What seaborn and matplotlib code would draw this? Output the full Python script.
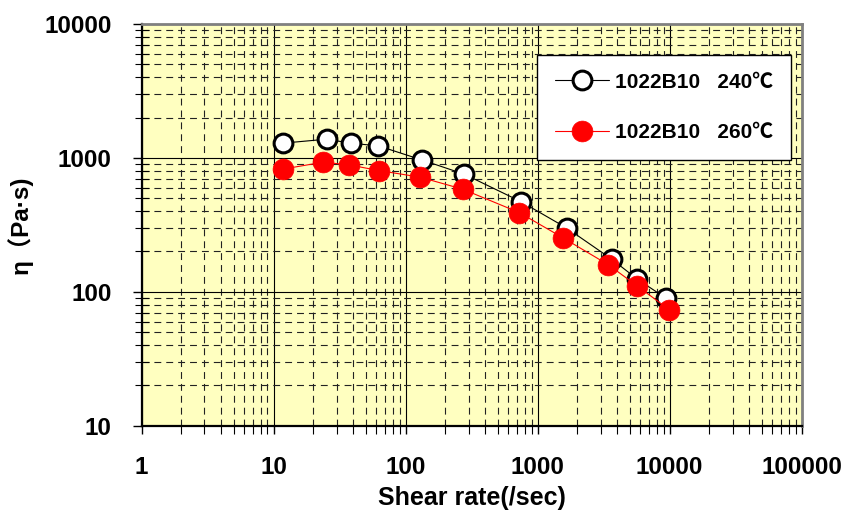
import matplotlib
matplotlib.use("Agg")
import matplotlib.pyplot as plt
import matplotlib.ticker as mticker
import numpy as np
import pandas as pd
import seaborn as sns

# ---- data ----
shear_240 = [11.7, 25.3, 38.4, 62.2, 132.6, 279, 746, 1664, 3648, 5702, 9354]
eta_240 = [1288, 1380, 1288, 1230, 966, 755, 472, 299, 175, 124, 89.8]
shear_260 = [11.7, 23.8, 37.3, 63.0, 128.8, 271, 724, 1568, 3437, 5649, 9954]
eta_260 = [824, 929, 887, 804, 718, 584, 391, 252, 159, 111, 73.4]
label_240 = "1022B10   240℃"
label_260 = "1022B10   260℃"
x_ticks = [1, 10, 100, 1000, 10000, 100000]
y_ticks = [10, 100, 1000, 10000]
x_label = "Shear rate(/sec)"
y_label = "η（Pa·s)"

sns.set_theme(style="ticks")
fam = ["Liberation Sans", "Noto Sans CJK JP", "DejaVu Sans"]
plt.rcParams["font.family"] = fam
plt.rcParams["font.weight"] = "bold"
for k in ["text.color", "axes.labelcolor", "xtick.color", "ytick.color"]:
    plt.rcParams[k] = "black"

fig = plt.figure(figsize=(8.43, 5.11), dpi=100)
ax = fig.add_axes([141.5 / 843, 1 - 425.7 / 511, (801.7 - 141.5) / 843, (425.7 - 24) / 511])
ax.set_facecolor("#FFFFC0")

df240 = pd.DataFrame({"x": shear_240, "y": eta_240})
df260 = pd.DataFrame({"x": shear_260, "y": eta_260})

sns.lineplot(data=df240, x="x", y="y", ax=ax, color="black", lw=0.8,
             marker="o", markersize=13.5, markerfacecolor="white",
             markeredgecolor="black", markeredgewidth=2.2, label=label_240, zorder=3)
sns.lineplot(data=df260, x="x", y="y", ax=ax, color="#FF0000", lw=0.8,
             marker="o", markersize=15, markerfacecolor="#FF0000",
             markeredgecolor="#FF0000", markeredgewidth=0.5, label=label_260, zorder=4)

ax.set_xscale("log")
ax.set_yscale("log")
ax.set_xlim(1, 100000)
ax.set_ylim(10, 10000)

ax.xaxis.set_major_locator(mticker.FixedLocator(x_ticks))
ax.yaxis.set_major_locator(mticker.FixedLocator(y_ticks))
ax.xaxis.set_major_formatter(mticker.FixedFormatter([str(v) for v in x_ticks]))
ax.yaxis.set_major_formatter(mticker.FixedFormatter([str(v) for v in y_ticks]))
ax.xaxis.set_minor_locator(mticker.LogLocator(base=10, subs=np.arange(2, 10), numticks=20))
ax.yaxis.set_minor_locator(mticker.LogLocator(base=10, subs=np.arange(2, 10), numticks=20))
ax.xaxis.set_minor_formatter(mticker.NullFormatter())
ax.yaxis.set_minor_formatter(mticker.NullFormatter())

ax.grid(which="major", color="black", lw=0.8, ls="-")
ax.grid(which="minor", color="#222222", lw=0.8, ls=(0, (6.2, 4.5)))
ax.set_axisbelow(True)

ax.tick_params(axis="x", which="major", direction="out", length=6, width=1, color="black",
               labelsize=17.5, pad=16, labelcolor="black")
ax.tick_params(axis="x", which="minor", direction="out", length=6, width=0.8, color="black")
ax.tick_params(axis="y", which="major", direction="out", length=6.5, width=1, color="black",
               labelsize=17.5, pad=15, labelcolor="black")
ax.tick_params(axis="y", which="minor", direction="inout", length=10, width=0.8, color="black")
for lab in ax.get_xticklabels() + ax.get_yticklabels():
    lab.set_fontweight("bold")

for side in ["left", "bottom"]:
    ax.spines[side].set_color("black")
    ax.spines[side].set_linewidth(1.6)
for side in ["top", "right"]:
    ax.spines[side].set_color("#808080")
    ax.spines[side].set_linewidth(2)
    ax.spines[side].set_visible(True)

ax.set_xlabel(x_label, fontsize=18, fontweight="bold", labelpad=5, color="black")
ax.set_ylabel(y_label, fontsize=17.5, fontweight="bold", labelpad=8, family=fam, color="black")

leg = ax.legend(loc="upper left", bbox_to_anchor=(0.599, 0.923), frameon=True,
                fancybox=False, framealpha=1, edgecolor="black", facecolor="white",
                prop={"family": fam, "weight": "bold", "size": 15},
                handlelength=2.6, handletextpad=0.3, labelspacing=1.5,
                borderpad=0.85, borderaxespad=0)
leg.get_frame().set_linewidth(1.0)
for t in leg.get_texts():
    t.set_color("black")

fig.savefig("out.png", dpi=100)
